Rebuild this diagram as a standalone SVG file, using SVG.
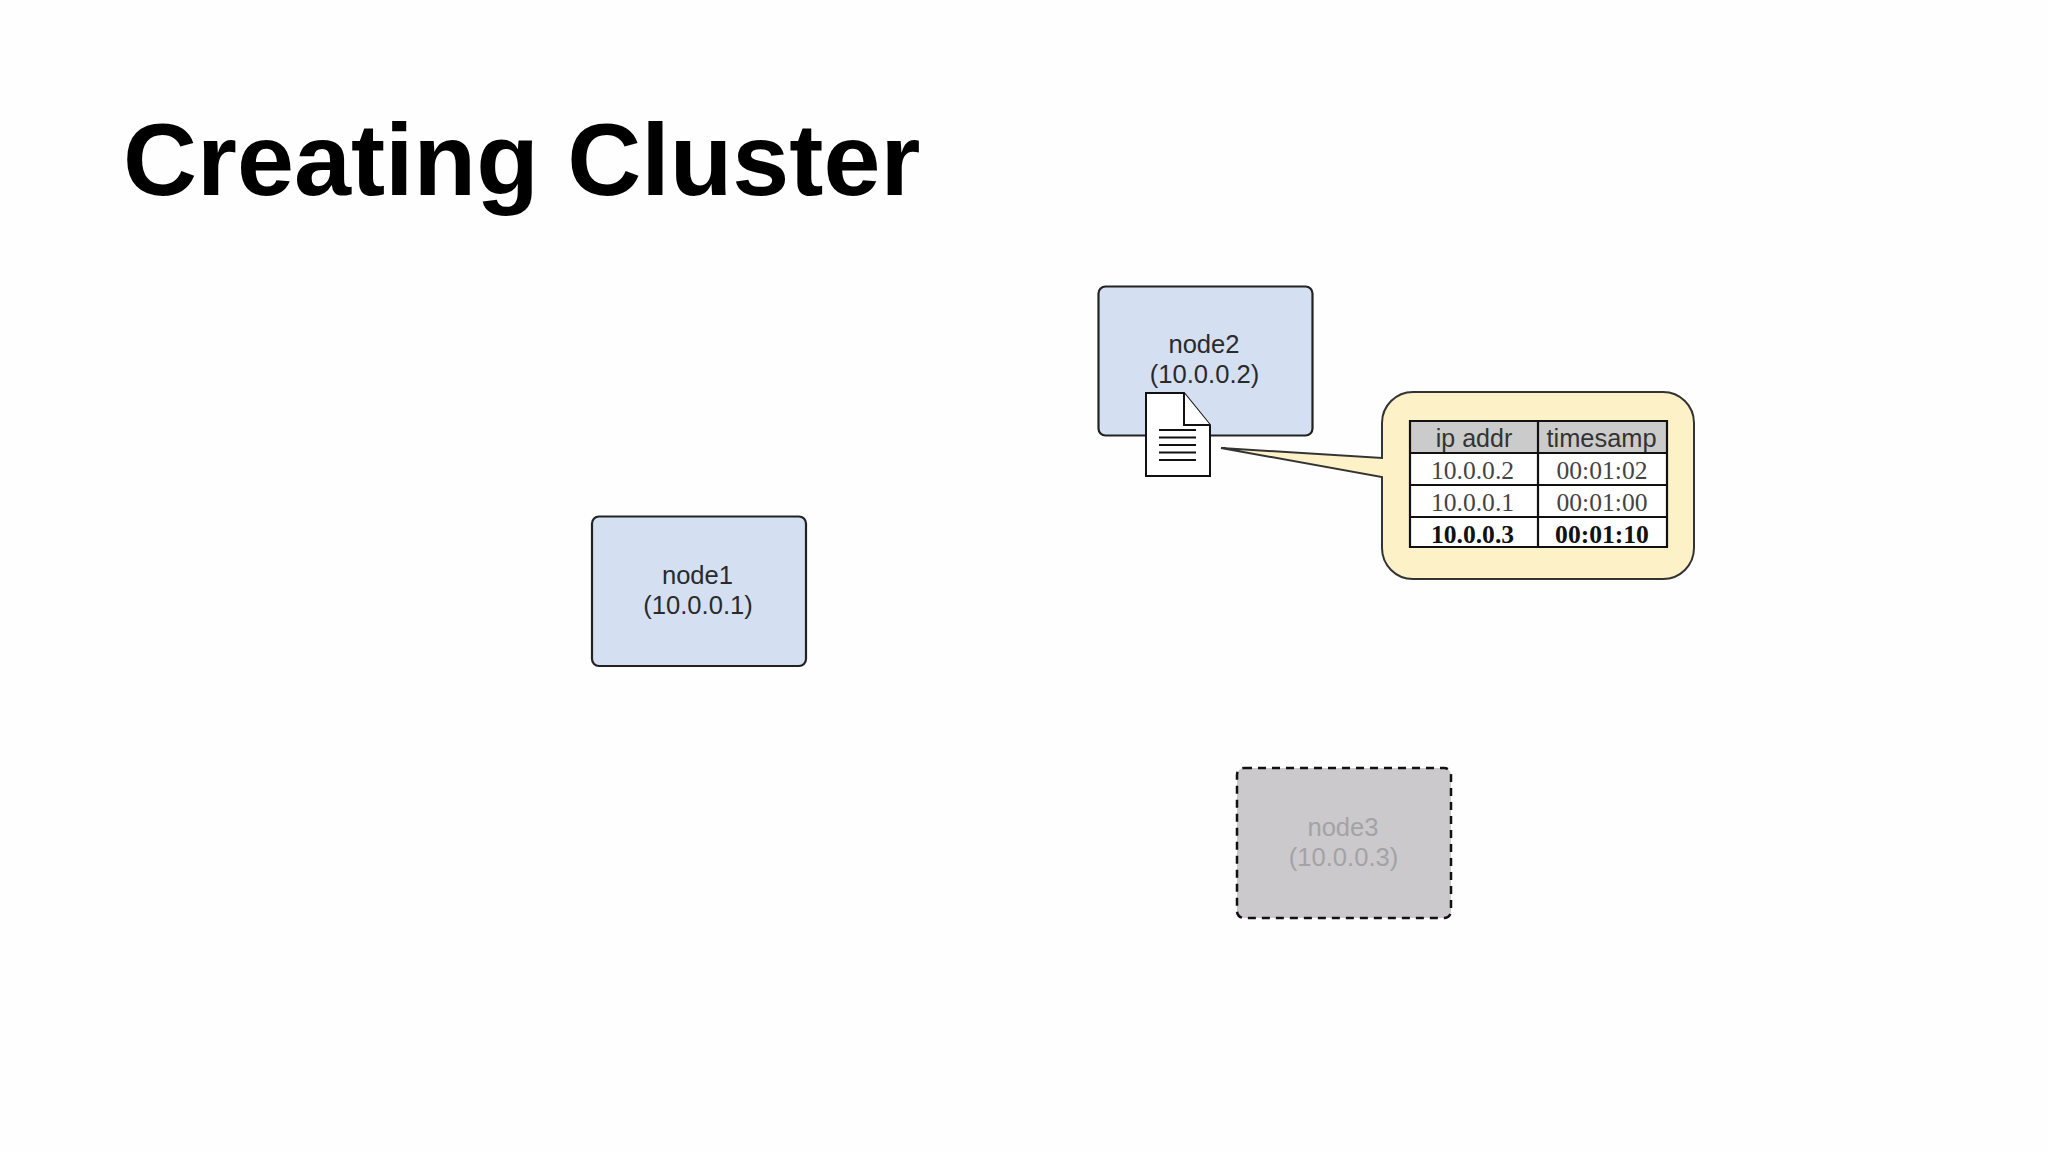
<svg xmlns="http://www.w3.org/2000/svg" width="2048" height="1152" viewBox="0 0 2048 1152">
<style>
.n{fill:#d4e0f2;stroke:#222;stroke-width:2.2}
.l{font-family:"Liberation Sans",Arial,sans-serif;font-size:25.6px;text-anchor:middle;fill:#2a2a2a}
.s{font-family:"Liberation Serif","Times New Roman",serif;font-size:25.6px;text-anchor:middle;fill:#444}
.b{font-weight:bold;fill:#111}
.g{stroke:#111;stroke-width:2.2;fill:none}
</style>
<rect width="2048" height="1152" fill="#fefefe"/>
<text x="123" y="195" font-family="'Liberation Sans',Arial,sans-serif" font-weight="bold" font-size="102.5" fill="#000">Creating Cluster</text>
<g id="node1"><rect class="n" x="592" y="516.500" width="214" height="149.500" rx="7"/><text class="l" x="697.500" y="584">node1</text><text class="l" x="698" y="614">(10.0.0.1)</text></g>
<g id="node2"><rect class="n" x="1098.500" y="286.500" width="214" height="149" rx="7"/><text class="l" x="1204" y="353">node2</text><text class="l" x="1204.500" y="383">(10.0.0.2)</text></g>
<g id="node3"><rect x="1237" y="768" width="214" height="150" rx="7" fill="#cbc9cc" stroke="#111" stroke-width="2.500" stroke-dasharray="8 6"/><text class="l" x="1343" y="836" style="fill:#a3a3a6">node3</text><text class="l" x="1343.500" y="866" style="fill:#a3a3a6">(10.0.0.3)</text></g>
<g id="document"><path d="M1146 393H1184L1210 425V476H1146Z" fill="#fff" stroke="#111" stroke-width="2"/><path d="M1184 393V425H1210" fill="#fff" stroke="#111" stroke-width="2"/><path d="M1159 430H1196M1159 437.500H1196M1159 445H1196M1159 452.500H1196M1159 460H1196" stroke="#111" stroke-width="2.200" fill="none"/></g>
<g id="callout"><path d="M1382 423a31 31 0 0 1 31-31H1663a31 31 0 0 1 31 31V548a31 31 0 0 1-31 31H1413a31 31 0 0 1-31-31V477L1221 448L1382 458Z" fill="#fdf1c8" stroke="#333" stroke-width="2"/>
<rect x="1410" y="421" width="257" height="32" fill="#cbcbcb"/><rect x="1410" y="453" width="257" height="94" fill="#fff"/>
<path class="g" d="M1410 421H1667V547H1410ZM1410 453H1667M1410 485H1667M1410 517H1667M1538 421V547"/>
<text class="l" x="1474" y="447" style="fill:#333;font-size:25px">ip addr</text><text class="l" x="1601.500" y="447" style="fill:#333;font-size:25.400px">timesamp</text>
<text class="s" x="1472.500" y="479">10.0.0.2</text><text class="s" x="1602" y="479">00:01:02</text>
<text class="s" x="1472.500" y="511">10.0.0.1</text><text class="s" x="1602" y="511">00:01:00</text>
<text class="s b" x="1472.500" y="543">10.0.0.3</text><text class="s b" x="1602" y="543">00:01:10</text></g>
</svg>
